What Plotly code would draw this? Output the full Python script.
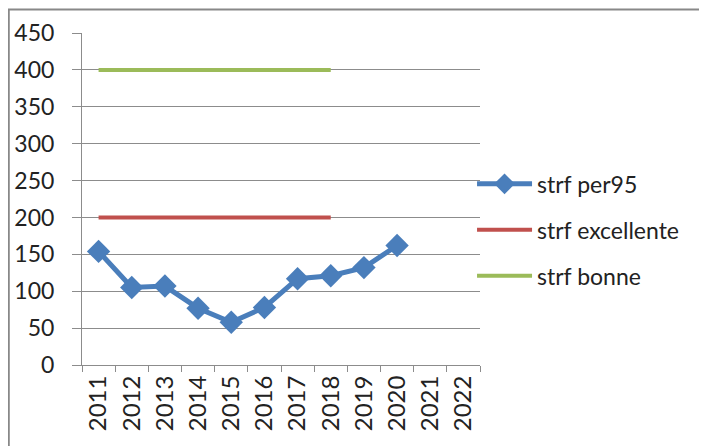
import plotly.graph_objects as go

years = [str(y) for y in range(2011, 2023)]
per95_years = years[:10]
per95_values = [154, 105, 107, 77, 58, 78, 117, 121, 132, 162]
limit_years = years[:8]
excellente_values = [200] * 8
bonne_values = [400] * 8

blue = "#4A7EBB"
red = "#C0504D"
green = "#9BBB59"
grid = "#8C8C8C"
font_family = "Lato, Open Sans, sans-serif"

fig = go.Figure()
fig.add_trace(go.Scatter(
    x=per95_years, y=per95_values, name="strf per95", mode="lines+markers",
    line=dict(color=blue, width=5),
    marker=dict(symbol="diamond", size=18, color=blue),
    legendgroup="a",
))
fig.add_trace(go.Scatter(
    x=limit_years, y=excellente_values, name="strf excellente", mode="lines",
    line=dict(color=red, width=4), legendgroup="b",
))
fig.add_trace(go.Scatter(
    x=limit_years, y=bonne_values, name="strf bonne", mode="lines",
    line=dict(color=green, width=4), legendgroup="c",
))

# the page has an 8px body margin, so margins are offset by it
fig.update_layout(
    width=707, height=446,
    margin=dict(l=74, r=235, t=25, b=89, autoexpand=False),
    paper_bgcolor="white", plot_bgcolor="white",
    font=dict(family=font_family, size=23, color="#222222"),
    showlegend=True,
    legend=dict(
        x=0.98, xanchor="left", y=0.407, yanchor="middle",
        font=dict(size=23), tracegroupgap=13, traceorder="grouped",
        itemwidth=55, bgcolor="rgba(0,0,0,0)",
    ),
    shapes=[dict(
        type="rect", xref="paper", yref="paper",
        x0=-0.184, x1=1.7, y0=-0.28, y1=1.071,
        line=dict(color="#888888", width=2),
    )],
)
fig.update_xaxes(
    type="category", categoryorder="array", categoryarray=years,
    range=[-0.5, 11.5], tickvals=years, tickangle=-90, automargin=False,
    tickson="boundaries", ticks="outside", ticklen=6, tickcolor=grid,
    showline=True, linecolor=grid, linewidth=1, showgrid=False,
    tickfont=dict(size=24),
)
fig.update_yaxes(
    range=[0, 450], dtick=50, ticks="outside", ticklen=9, tickcolor=grid,
    showgrid=True, gridcolor=grid, gridwidth=1, automargin=False,
    showline=True, linecolor=grid, linewidth=1, zeroline=False,
    ticklabelstandoff=13, tickfont=dict(size=23),
)

fig.write_html("out.html")
